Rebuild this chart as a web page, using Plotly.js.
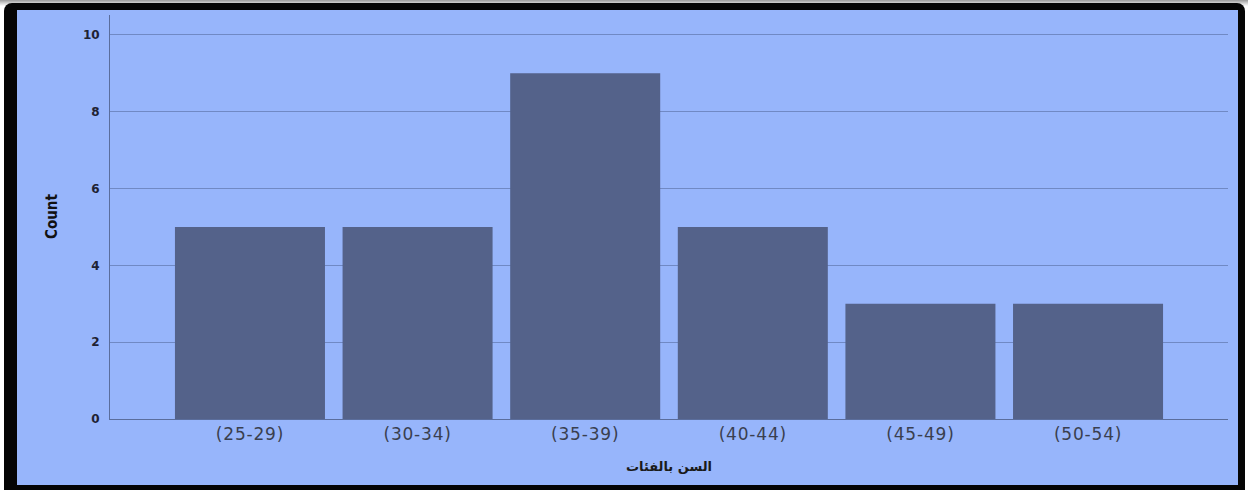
<!DOCTYPE html>
<html><head><meta charset="utf-8">
<script src="https://cdn.plot.ly/plotly-3.0.1.min.js"></script>
<style>
html,body{margin:0;padding:0;background:#ffffff;width:1248px;height:490px;overflow:hidden;}
#shadow{position:absolute;left:0;top:0;width:1248px;height:490px;background:linear-gradient(#9a9a9a,#d0d0d0 3px,#ffffff 6px);}
#frame{position:absolute;left:4px;top:3px;width:1241px;height:487px;background:#050505;border-radius:8px 8px 0 0;}
#chart{position:absolute;left:17px;top:10px;width:1221px;height:475px;}
#chart .xtick text{letter-spacing:0.8px;}
</style></head>
<body>
<div id="shadow"></div><div id="frame"></div>
<div id="chart"></div>
<script>
const categories = ["(25-29)", "(30-34)", "(35-39)", "(40-44)", "(45-49)", "(50-54)"];
const counts = [5, 5, 9, 5, 3, 3];
const yTicks = [0, 2, 4, 6, 8, 10];
const xTitle = "السن بالفئات";
const yTitle = "Count";

const trace = {
  type: 'bar', x: categories, y: counts,
  marker: {color: '#54628A', line: {width: 0}},
  hoverinfo: 'x+y'
};
const layout = {
  width: 1221, height: 475,
  margin: {l: 93, r: 10, t: 5, b: 66},
  paper_bgcolor: '#97B5FB', plot_bgcolor: '#97B5FB',
  bargap: 0.105,
  showlegend: false,
  xaxis: {
    type: 'category', range: [-0.835, 5.835],
    showline: true, linecolor: '#5A6D9C', linewidth: 1,
    showgrid: false, zeroline: false, ticks: '',
    tickfont: {family: 'DejaVu Sans, sans-serif', size: 17, color: '#3a3f4f'},
    ticklabelstandoff: 0
  },
  yaxis: {
    range: [0, 10.52], tickvals: yTicks, ticktext: yTicks.map(String),
    showline: true, linecolor: '#5A6D9C', linewidth: 1,
    showgrid: true, gridcolor: '#7089C4', gridwidth: 1,
    zeroline: false, ticks: '',
    tickfont: {family: 'DejaVu Sans, sans-serif', size: 12, color: '#1e2233', weight: 'bold'},
    ticklabelstandoff: 7
  },
  annotations: [
    {text: yTitle, xref: 'paper', yref: 'paper', x: 0, y: 0.5, xanchor: 'center', yanchor: 'middle',
     xshift: -58, textangle: -90, showarrow: false,
     font: {family: 'Liberation Sans Narrow, DejaVu Sans Condensed, sans-serif', size: 15, color: '#111111', weight: 'bold'}},
    {text: xTitle, xref: 'paper', yref: 'paper', x: 0.5, y: 0, xanchor: 'center', yanchor: 'middle',
     yshift: -47, showarrow: false,
     font: {family: 'DejaVu Sans, Noto Sans, sans-serif', size: 13, color: '#1a1a1a', weight: 'bold'}}
  ]
};
Plotly.newPlot('chart', [trace], layout, {displayModeBar: false, staticPlot: true});
</script>
</body></html>
